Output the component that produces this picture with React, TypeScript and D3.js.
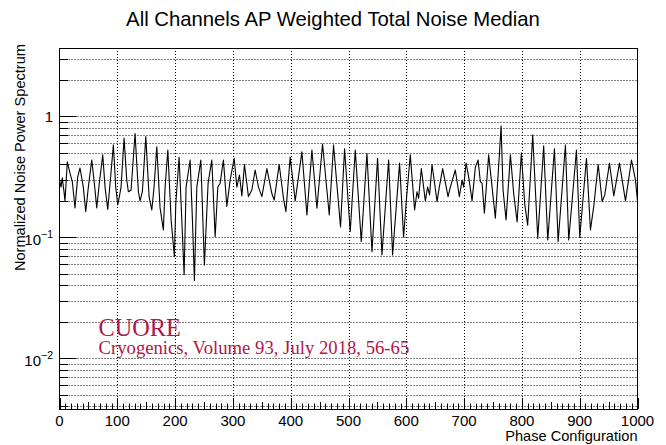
import React from 'react';
import * as d3 from 'd3';

const title = 'All Channels AP Weighted Total Noise Median';
const xTitle = 'Phase Configuration';
const yTitle = 'Normalized Noise Power Spectrum';
const annotationTitle = 'CUORE';
const annotationRef = 'Cryogenics, Volume 93, July 2018, 56-65';

const xDomain = [0, 1000];
const yDomain = [0.003811, 3.668];
const xMajorTicks = [0, 100, 200, 300, 400, 500, 600, 700, 800, 900, 1000];
const yDecadeLabels = [
  { value: 1, base: '1', exp: '' },
  { value: 0.1, base: '10', exp: '\u22121' },
  { value: 0.01, base: '10', exp: '\u22122' },
];

const phaseConfig = [
  0, 2.6, 4.8, 7.8, 9.5, 13.5, 18.2, 22.2, 26.8, 31.5, 35.5, 41.2, 45.4, 49.9, 55.8, 60.3, 64.4, 68.9,
  74.8, 78.8, 83.5, 88.0, 93.2, 97.3, 100.8, 103.5, 106.5, 111.7, 116.4, 119.1, 123.8, 130.7, 136.5,
  139.4, 143.4, 149.3, 155.0, 159.7, 163.6, 168.3, 174.0, 179.7, 182.7, 187.4, 193.1, 198.8, 201.2,
  206.9, 211.6, 215.6, 219.0, 226.0, 230.0, 233.4, 237.6, 244.5, 250.7, 257.1, 263.5, 269.3, 273.9,
  277.9, 283.6, 289.5, 295.2, 302.2, 306.8, 311.3, 315.5, 320.0, 326.9, 332.8, 338.5, 344.2, 350.1,
  358.8, 367.4, 371.4, 380.1, 387.5, 391.7, 399.1, 407.8, 419.4, 428.1, 436.7, 445.4, 455.1, 466.7,
  474.1, 486.2, 493.2, 503.0, 511.7, 522.1, 531.9, 540.6, 550.3, 557.9, 569.4, 576.3, 588.4, 595.3,
  600.0, 606.9, 614.4, 618.5, 621.3, 626.0, 632.9, 636.9, 640.3, 644.5, 653.2, 657.1, 662.9, 672.2,
  676.2, 684.8, 691.8, 696.5, 699.2, 703.4, 707.9, 713.8, 719.5, 724.2, 728.1, 731.1, 735.1, 742.5,
  748.4, 754.1, 761.0, 764.0, 767.4, 772.6, 780.1, 785.8, 791.7, 799.1, 804.8, 810.0, 818.7, 827.4,
  837.7, 844.7, 856.3, 862.7, 875.3, 881.0, 894.4, 900.1, 911.7, 918.6, 924.3, 932.0, 938.9, 943.4,
  951.5, 959.0, 968.8, 979.2, 989.6, 996.5, 1000,
];

const noiseMedian = [
  0.297, 0.26, 0.31, 0.238, 0.2, 0.42, 0.338, 0.288, 0.175, 0.316, 0.374, 0.26, 0.163, 0.26, 0.435, 0.28, 0.175, 0.28,
  0.48, 0.26, 0.17, 0.297, 0.58, 0.26, 0.185, 0.217, 0.26, 0.66, 0.297, 0.238, 0.245, 0.72, 0.238,
  0.2, 0.238, 0.68, 0.217, 0.168, 0.26, 0.56, 0.175, 0.115, 0.26, 0.527, 0.139, 0.069, 0.19,
  0.458, 0.139, 0.049, 0.26, 0.435, 0.139, 0.044, 0.26, 0.435, 0.059, 0.28, 0.435, 0.101, 0.26,
  0.28, 0.435, 0.18, 0.297, 0.45, 0.26, 0.327, 0.22, 0.40, 0.217, 0.246, 0.36, 0.26, 0.217,
  0.37, 0.23, 0.203, 0.4, 0.21, 0.163, 0.46, 0.2, 0.51, 0.153, 0.527, 0.174, 0.59, 0.153,
  0.58, 0.122, 0.54, 0.111, 0.527, 0.092, 0.495, 0.076, 0.45, 0.0716, 0.435, 0.0716, 0.41, 0.1,
  0.2, 0.48, 0.168, 0.238, 0.21, 0.37, 0.2, 0.26, 0.224, 0.4, 0.197, 0.26, 0.37, 0.217,
  0.26, 0.36, 0.217, 0.297, 0.26, 0.41, 0.316, 0.2, 0.38, 0.435, 0.288, 0.28, 0.158, 0.48,
  0.26, 0.144, 0.48, 0.83, 0.246, 0.139, 0.48, 0.23, 0.134, 0.5, 0.19, 0.126, 0.7, 0.098,
  0.57, 0.095, 0.54, 0.092, 0.58, 0.095, 0.527, 0.1, 0.45, 0.115, 0.18, 0.4, 0.197, 0.224,
  0.41, 0.22, 0.41, 0.2, 0.435, 0.297, 0.2,
];

const W = 666;
const H = 445;
const frame = { left: 59.5, right: 637.5, top: 48, bottom: 409 };
const font = '"Liberation Sans", Arial, Helvetica, sans-serif';

export default function App() {
  const x = d3.scaleLinear().domain(xDomain).range([frame.left, frame.right]);
  const y = d3.scaleLog().domain(yDomain).range([frame.bottom, frame.top]);

  const xMinorTicks = d3.range(0, 1001, 10).filter((v) => v % 100 !== 0);
  const logTicks: number[] = [];
  [0.001, 0.01, 0.1, 1].forEach((d) => {
    for (let k = 1; k <= 9; k++) {
      const v = k * d;
      if (v >= yDomain[0] && v <= yDomain[1]) logTicks.push(+v.toPrecision(3));
    }
  });
  const isDecade = (v: number) => Math.abs(Math.log10(v) - Math.round(Math.log10(v))) < 1e-6;

  const points = phaseConfig.map((p, i) => [p, noiseMedian[i]] as [number, number]);
  const line = d3
    .line<[number, number]>()
    .x((d) => x(d[0]))
    .y((d) => y(d[1]));

  const snap = (v: number) => Math.round(v) + 0.5;

  return (
    <svg
      width={W}
      height={H}
      style={{ position: 'absolute', left: 0, top: 0, background: '#fff' }}
      fontFamily={font}
    >
      <rect x={0} y={0} width={W} height={H} fill="#fff" />
      {/* grid */}
      <g stroke="#000" strokeWidth={1} strokeDasharray="1,2">
        {logTicks.map((v) => (
          <line key={'gy' + v} x1={frame.left} x2={frame.right} y1={snap(y(v))} y2={snap(y(v))} />
        ))}
        {xMajorTicks
          .filter((v) => v > 0 && v < 1000)
          .map((v) => (
            <line key={'gx' + v} x1={snap(x(v))} x2={snap(x(v))} y1={frame.top} y2={frame.bottom} />
          ))}
      </g>
      {/* data line */}
      <path d={line(points) || ''} fill="none" stroke="#000" strokeWidth={1.1} strokeLinejoin="round" />
      {/* ticks */}
      <g stroke="#000" strokeWidth={1}>
        {logTicks.map((v) => (
          <line
            key={'ty' + v}
            x1={frame.left}
            x2={frame.left + (isDecade(v) ? 17 : 8.5)}
            y1={snap(y(v))}
            y2={snap(y(v))}
          />
        ))}
        {xMajorTicks.map((v) => (
          <line key={'tx' + v} x1={snap(x(v))} x2={snap(x(v))} y1={frame.bottom} y2={frame.bottom - 11} />
        ))}
        {xMinorTicks.map((v) => (
          <line
            key={'tmx' + v}
            x1={snap(x(v))}
            x2={snap(x(v))}
            y1={frame.bottom}
            y2={frame.bottom - (v % 50 === 0 ? 7 : 5.5)}
          />
        ))}
      </g>
      {/* frame */}
      <rect
        x={frame.left}
        y={frame.top + 0.5}
        width={frame.right - frame.left}
        height={frame.bottom - frame.top}
        fill="none"
        stroke="#000"
        strokeWidth={1}
      />
      {/* x tick labels */}
      <g fontSize={15} textAnchor="middle" fill="#000">
        {xMajorTicks.map((v) => (
          <text key={'lx' + v} x={x(v)} y={426}>
            {String(v)}
          </text>
        ))}
      </g>
      {/* y tick labels */}
      <g fontSize={15} textAnchor="end" fill="#000">
        {yDecadeLabels.map((d) => (
          <text key={'ly' + d.value} x={53} y={y(d.value) + (d.exp ? 8 : 5.5)}>
            {d.base}
            {d.exp ? (
              <tspan fontSize={10.5} dy={-7}>
                {d.exp}
              </tspan>
            ) : null}
          </text>
        ))}
      </g>
      {/* titles */}
      <text x={333} y={26} fontSize={20.3} textAnchor="middle" fill="#000">
        {title}
      </text>
      <text x={frame.right} y={441} fontSize={14.6} textAnchor="end" fill="#000">
        {xTitle}
      </text>
      <text
        transform={`translate(25,${frame.top - 4}) rotate(-90)`}
        fontSize={14.6}
        textAnchor="end"
        fill="#000"
      >
        {yTitle}
      </text>
      {/* annotation */}
      <g fontFamily='"Liberation Serif", "Times New Roman", serif' fill="#b0174a">
        <text x={98.5} y={336} fontSize={24.3}>
          {annotationTitle}
        </text>
        <text x={98.5} y={353.5} fontSize={18.7}>
          {annotationRef}
        </text>
      </g>
    </svg>
  );
}
